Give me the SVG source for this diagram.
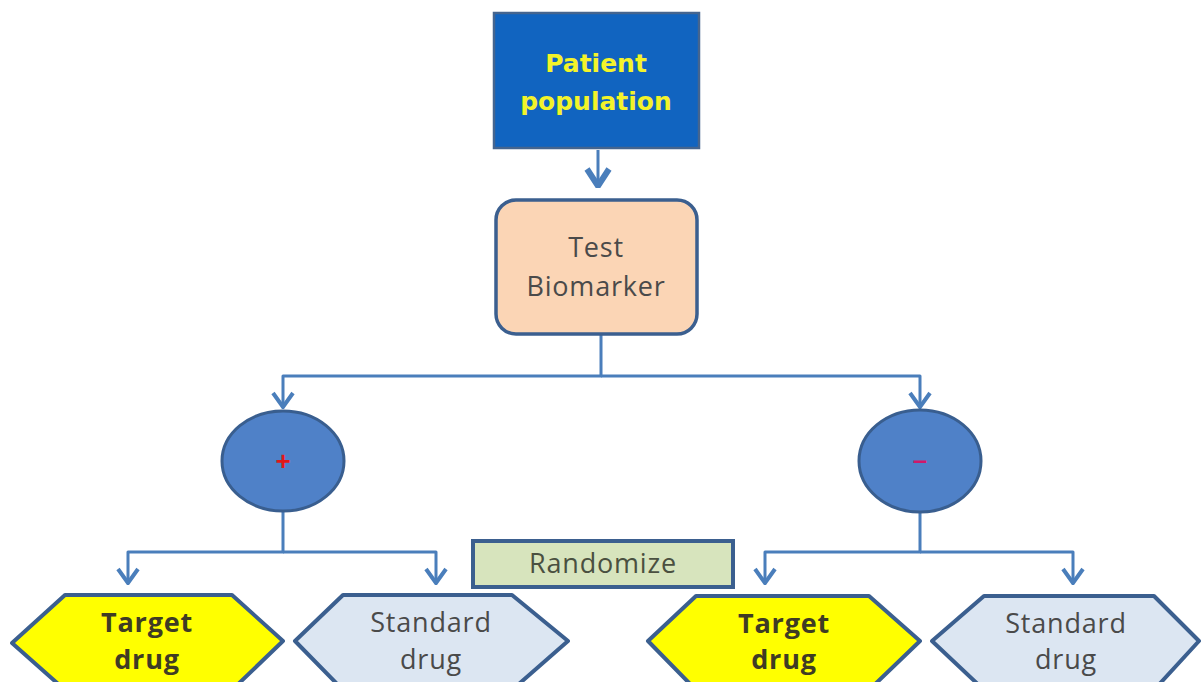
<svg xmlns="http://www.w3.org/2000/svg" width="1202" height="682" viewBox="0 0 1202 682">
<style>
.conn{fill:none;stroke:#4a7ebb;stroke-width:3;stroke-linejoin:round}
.lbl{font-family:"Open Sans","Liberation Sans",sans-serif;font-size:27px;fill:#4a4a4a;text-anchor:middle;letter-spacing:0.8px}
.bold{font-weight:bold;fill:#3f3c24}
.hexT{fill:#ffff00;stroke:#3b5f8f;stroke-width:4;stroke-linejoin:round}
.hexS{fill:#dce6f2;stroke:#3b5f8f;stroke-width:4;stroke-linejoin:round}
.pp{font-family:"DejaVu Sans",Verdana,sans-serif;font-weight:bold;font-size:25px;fill:#f3f32a;text-anchor:middle}
</style>
<defs>
<marker id="arr" viewBox="-18 -14 20 28" refX="0" refY="0" markerWidth="20" markerHeight="28" markerUnits="userSpaceOnUse" orient="auto">
<path d="M-14,-10 L0,0 L-14,10" fill="none" stroke="#4a7ebb" stroke-width="4" stroke-linejoin="miter"/>
</marker>
<marker id="arrBig" viewBox="-22 -16 24 32" refX="0" refY="0" markerWidth="24" markerHeight="32" markerUnits="userSpaceOnUse" orient="auto">
<path d="M-17,-11 L0,0 L-17,11" fill="none" stroke="#4a7ebb" stroke-width="6" stroke-linejoin="miter"/>
</marker>
</defs>
<rect width="1202" height="682" fill="#ffffff"/>
<g id="connectors">
<path class="conn" d="M598,150 V186" stroke-width="5" marker-end="url(#arrBig)"/>
<path class="conn" d="M601,334 V376 H283 V407" marker-end="url(#arr)"/>
<path class="conn" d="M601,376 H920 V407" marker-end="url(#arr)"/>
<path class="conn" d="M283,512 V552 H128 V583" marker-end="url(#arr)"/>
<path class="conn" d="M283,552 H436 V583" marker-end="url(#arr)"/>
<path class="conn" d="M920,512 V552 H765 V583" marker-end="url(#arr)"/>
<path class="conn" d="M920,552 H1073 V583" marker-end="url(#arr)"/>
</g>
<g id="patient-population">
<rect x="494" y="13" width="205" height="135" fill="#1164c0" stroke="#45658f" stroke-width="2.5"/>
<text class="pp" x="596" y="72">Patient</text>
<text class="pp" x="596" y="110">population</text>
</g>
<g id="test-biomarker">
<rect x="496" y="200" width="201" height="134" rx="20" ry="20" fill="#fbd5b5" stroke="#3b5f8f" stroke-width="3.5"/>
<text class="lbl" x="596" y="257">Test</text>
<text class="lbl" x="596" y="296">Biomarker</text>
</g>
<g id="positive">
<ellipse cx="283" cy="461" rx="61" ry="50" fill="#4f81c8" stroke="#395e8f" stroke-width="3"/>
<text x="283" y="470" font-family="'Liberation Sans',Arial,sans-serif" font-weight="bold" font-size="26" fill="#e01818" text-anchor="middle">+</text>
</g>
<g id="negative">
<ellipse cx="920" cy="461" rx="61" ry="51" fill="#4f81c8" stroke="#395e8f" stroke-width="3"/>
<text x="920" y="469" font-family="'Liberation Sans',Arial,sans-serif" font-weight="bold" font-size="26" fill="#d0186a" text-anchor="middle">–</text>
</g>
<g id="randomize">
<rect x="473" y="541" width="260" height="46" fill="#d7e4bd" stroke="#3b5f8f" stroke-width="4"/>
<text class="lbl" x="603" y="573" style="fill:#4a5040">Randomize</text>
</g>
<g id="target-drug-pos">
<polygon class="hexT" points="12,643 65,595 232,595 283,641 232,690 65,690"/>
<text class="lbl bold" x="147" y="632">Target</text>
<text class="lbl bold" x="147" y="669">drug</text>
</g>
<g id="standard-drug-pos">
<polygon class="hexS" points="295,641 343,595 512,595 568,641 512,690 343,690"/>
<text class="lbl" x="431" y="632">Standard</text>
<text class="lbl" x="431" y="669">drug</text>
</g>
<g id="target-drug-neg">
<polygon class="hexT" points="648,641 696,596 869,596 920,641 869,690 696,690"/>
<text class="lbl bold" x="784" y="633">Target</text>
<text class="lbl bold" x="784" y="669">drug</text>
</g>
<g id="standard-drug-neg">
<polygon class="hexS" points="932,641 984,596 1154,596 1199,641 1154,690 984,690"/>
<text class="lbl" x="1066" y="633">Standard</text>
<text class="lbl" x="1066" y="669">drug</text>
</g>
</svg>
